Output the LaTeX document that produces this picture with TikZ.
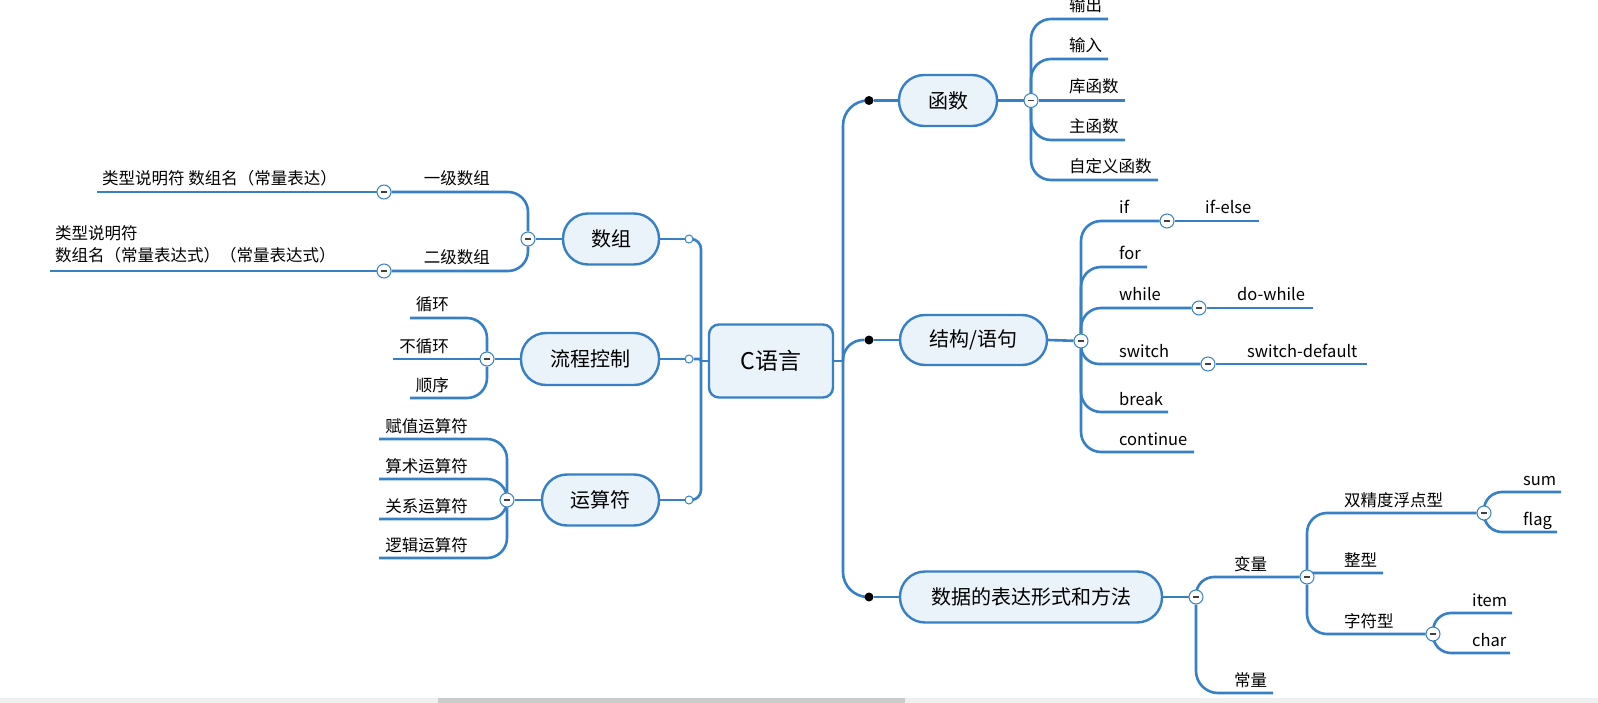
\documentclass[tikz,border=0pt]{standalone}
\usepackage{fontspec}
\setmainfont{Noto Sans CJK SC}
\usetikzlibrary{backgrounds}
\definecolor{ln}{RGB}{55,128,198}
\definecolor{nf}{RGB}{234,242,250}
\tikzset{
 conn/.style={draw=ln,line width=2.6pt},
 topic/.style={draw=ln,fill=nf,line width=2.4pt,rounded corners=25pt,minimum height=51pt,inner sep=0pt,font=\fontsize{20}{24}\selectfont},
 rootbox/.style={draw=ln,fill=nf,line width=2.4pt,rounded corners=10pt,minimum width=124pt,minimum height=73pt,inner sep=0pt,font=\fontsize{23}{28}\selectfont},
 leaf/.style={inner sep=0pt,font=\fontsize{16.5}{22}\selectfont,anchor=base west},
 leafr/.style={leaf,anchor=base east},
 fold/.style={circle,draw=ln,fill=white,line width=1pt,minimum size=14pt,inner sep=0pt,
   path picture={\draw[line width=1.2pt,black!75] ([xshift=-3pt]path picture bounding box.center) -- ([xshift=3pt]path picture bounding box.center);}},
 hole/.style={circle,draw=ln,fill=white,line width=1pt,minimum size=8pt,inner sep=0pt},
 blackdot/.style={circle,fill=black,minimum size=9pt,inner sep=0pt},
}
\newcommand\br[3][18]{\draw[conn,rounded corners=#1pt] (#2) |- (#3);}
\begin{document}
\begin{tikzpicture}[x=1pt,y=-1pt]
\useasboundingbox (0,0) rectangle (1598,703);
% scrollbar
\fill[gray!12] (0,698) rectangle (1598,703);
\fill[gray!40] (438,698) rectangle (905,703);

% root
\node[rootbox] (root) at (771,361) {C语言};
\coordinate (lt) at (701,361);
\coordinate (rt) at (843,361);

% left topics
\node[topic,minimum width=96pt] (sz) at (611,239) {数组};
\node[topic,minimum width=138pt,minimum height=52pt] (lc) at (590,359) {流程控制};
\node[topic,minimum width=117pt] (ys) at (600.5,500) {运算符};
\node[hole] (h1) at (689,239) {};
\node[hole] (h2) at (689,359) {};
\node[hole] (h3) at (689,500) {};

% right topics
\node[topic,minimum width=98pt] (hs) at (948,100.5) {函数};
\node[topic,minimum width=147pt,minimum height=50pt] (jg) at (973.5,340) {结构/语句};
\node[topic,minimum width=262pt] (sj) at (1031,597) {数据的表达形式和方法};
\node[blackdot] (d1) at (869,100.5) {};
\node[blackdot] (d2) at (869,340) {};
\node[blackdot] (d3) at (869,597) {};

% ---------- 数组 subtree
\node[fold] (fsz) at (528,239) {};
\node[fold] (f1) at (384,192) {};
\node[fold] (f2) at (384,271) {};
\node[leafr] (yj) at (490,185) {一级数组};
\node[leafr] (ej) at (490,264) {二级数组};
\coordinate (yj1e) at (97,192);
\coordinate (ej1e) at (50,271);
\node[leafr] (yj1) at (337,185) {类型说明符 数组名（常量表达）};
\node[leaf,anchor=west,align=left] (ej1) at (55,244) {类型说明符\\数组名（常量表达式）（常量表达式）};

% ---------- 流程控制 subtree
\node[fold] (flc) at (487,359) {};
\coordinate (xhe) at (410,318);
\coordinate (bxhe) at (393,359);
\coordinate (sxe) at (410,398);
\node[leafr] (xh) at (449,311) {循环};
\node[leafr] (bxh) at (449,352) {不循环};
\node[leafr] (sx) at (449,391) {顺序};

% ---------- 运算符 subtree
\node[fold] (fys) at (507,500) {};
\coordinate (fze) at (379,439);
\coordinate (sse) at (379,479);
\coordinate (gxe) at (379,519);
\coordinate (ljE) at (379,558);
\node[leafr] (fz) at (468,432) {赋值运算符};
\node[leafr] (ss) at (468,472) {算术运算符};
\node[leafr] (gx) at (468,512) {关系运算符};
\node[leafr] (lj) at (468,551) {逻辑运算符};

% ---------- 函数 subtree
\node[fold] (fhs) at (1031,100.5) {};
\coordinate (sce) at (1108,19);
\coordinate (sre) at (1108,59);
\coordinate (khe) at (1125,100.5);
\coordinate (zhe) at (1125,140);
\coordinate (zde) at (1158,180);
\node[leaf] (sc) at (1069,12) {输出};
\node[leaf] (sr) at (1069,52) {输入};
\node[leaf] (kh) at (1069,93) {库函数};
\node[leaf] (zh) at (1069,133) {主函数};
\node[leaf] (zd) at (1069,173) {自定义函数};

% ---------- 结构/语句 subtree
\node[fold] (fjg) at (1081,341) {};
\node[fold] (fif) at (1167,221) {};
\node[fold] (fwh) at (1199,308) {};
\node[fold] (fsw) at (1208,364) {};
\coordinate (ife) at (1259,221);
\coordinate (fore) at (1147,267);
\coordinate (dwe) at (1313,308);
\coordinate (sde) at (1367,364);
\coordinate (bre) at (1168,412);
\coordinate (cne) at (1194,452);
\node[leaf] (tif) at (1119,214) {if};
\node[leaf] (tife) at (1205,214) {if-else};
\node[leaf] (tfor) at (1119,260) {for};
\node[leaf] (twh) at (1119,301) {while};
\node[leaf] (tdw) at (1237,301) {do-while};
\node[leaf] (tsw) at (1119,357) {switch};
\node[leaf] (tsd) at (1247,357) {switch-default};
\node[leaf] (tbr) at (1119,405) {break};
\node[leaf] (tcn) at (1119,445) {continue};

% ---------- 数据 subtree
\node[fold] (fsj) at (1196,597) {};
\node[fold] (fbl) at (1307,577) {};
\node[fold] (fsjd) at (1484,513) {};
\node[fold] (fzf) at (1433,634) {};
\coordinate (cle) at (1273,693);
\coordinate (zxe) at (1383,573);
\coordinate (sume) at (1561,492);
\coordinate (flge) at (1557,532);
\coordinate (iteme) at (1512,613);
\coordinate (chre) at (1510,653);
\node[leaf] (bl) at (1234,570) {变量};
\node[leaf] (cl) at (1234,686) {常量};
\node[leaf] (sjd) at (1344,506) {双精度浮点型};
\node[leaf] (zx) at (1344,566) {整型};
\node[leaf] (zf) at (1344,627) {字符型};
\node[leaf] (sum) at (1523,485) {sum};
\node[leaf] (flg) at (1523,525) {flag};
\node[leaf] (itm) at (1472,606) {item};
\node[leaf] (chr) at (1472,646) {char};

\begin{scope}[on background layer]
% root trunks
\draw[conn] (root.west) -- (lt);
\draw[conn] (root.east) -- (rt);
\br[10]{lt}{h1}
\br[2]{lt}{h2}
\br[10]{lt}{h3}
\draw[conn] (sz.east) -- (h1);
\draw[conn] (lc.east) -- (h2);
\draw[conn] (ys.east) -- (h3);
\br[25]{rt}{d1}
\br[20]{rt}{d2}
\br[25]{rt}{d3}
\draw[conn] (d1) -- (hs.west);
\draw[conn] (d2) -- (jg.west);
\draw[conn] (d3) -- (sj.west);
% 数组
\draw[conn] (sz.west) -- (fsz);
\br[20]{fsz}{f1}
\br[20]{fsz}{f2}
\draw[conn] (f1) -- (yj1e);
\draw[conn] (f2) -- (ej1e);
% 流程控制
\draw[conn] (lc.west) -- (flc);
\br[20]{flc}{xhe}
\draw[conn] (flc) -- (bxhe);
\br[20]{flc}{sxe}
% 运算符
\draw[conn] (ys.west) -- (fys);
\br[20]{fys}{fze}
\br[20]{fys}{sse}
\br[18]{fys}{gxe}
\br[20]{fys}{ljE}
% 函数
\draw[conn] (hs.east) -- (fhs);
\br[20]{fhs}{sce}
\br[20]{fhs}{sre}
\draw[conn] (fhs) -- (khe);
\br[20]{fhs}{zhe}
\br[20]{fhs}{zde}
% 结构
\draw[conn] (jg.east) -- (fjg);
\br[20]{fjg}{fif}
\draw[conn] (fif) -- (ife);
\br[20]{fjg}{fore}
\br[20]{fjg}{fwh}
\draw[conn] (fwh) -- (dwe);
\br[18]{fjg}{fsw}
\draw[conn] (fsw) -- (sde);
\br[20]{fjg}{bre}
\br[20]{fjg}{cne}
% 数据
\draw[conn] (sj.east) -- (fsj);
\br[18]{fsj}{fbl}
\br[22]{fsj}{cle}
\br[20]{fbl}{fsjd}
\br[3]{fbl}{zxe}
\br[20]{fbl}{fzf}
\br[18]{fsjd}{sume}
\br[18]{fsjd}{flge}
\br[18]{fzf}{iteme}
\br[18]{fzf}{chre}
\end{scope}
\end{tikzpicture}
\end{document}
